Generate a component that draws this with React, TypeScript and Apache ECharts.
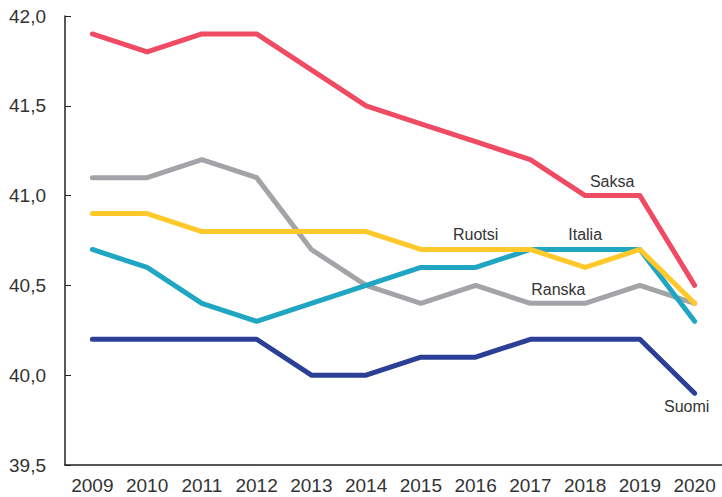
import React, { useEffect, useRef } from "react";
import * as echarts from "echarts";

const years = ["2009", "2010", "2011", "2012", "2013", "2014", "2015", "2016", "2017", "2018", "2019", "2020"];
const saksa = [41.9, 41.8, 41.9, 41.9, 41.7, 41.5, 41.4, 41.3, 41.2, 41.0, 41.0, 40.5];
const ranska = [41.1, 41.1, 41.2, 41.1, 40.7, 40.5, 40.4, 40.5, 40.4, 40.4, 40.5, 40.4];
const ruotsi = [40.9, 40.9, 40.8, 40.8, 40.8, 40.8, 40.7, 40.7, 40.7, 40.6, 40.7, 40.4];
const italia = [40.7, 40.6, 40.4, 40.3, 40.4, 40.5, 40.6, 40.6, 40.7, 40.7, 40.7, 40.3];
const suomi = [40.2, 40.2, 40.2, 40.2, 40.0, 40.0, 40.1, 40.1, 40.2, 40.2, 40.2, 39.9];

const FONT = "Liberation Sans";

function lineSeries(name: string, data: number[], color: string, labelYear: string, labelVal: number, offset: [number, number]) {
  return {
    name,
    type: "line",
    data,
    symbol: "none",
    lineStyle: { color, width: 5, cap: "round", join: "round" },
    itemStyle: { color },
    markPoint: {
      symbol: "rect",
      symbolSize: 1,
      itemStyle: { color: "rgba(0,0,0,0)" },
      label: {
        show: true,
        position: "inside",
        offset,
        formatter: name,
        color: "#333",
        fontSize: 16,
        fontFamily: FONT,
      },
      data: [{ coord: [labelYear, labelVal] }],
    },
  };
}

export default function App() {
  const ref = useRef<HTMLDivElement>(null);
  useEffect(() => {
    document.body.style.margin = "0";
    const chart = echarts.init(ref.current!, null, { renderer: "svg" });
    chart.setOption({
      animation: false,
      grid: { left: 65, right: -2, top: 16, bottom: 32, containLabel: false },
      xAxis: {
        type: "category",
        data: years,
        boundaryGap: true,
        axisLine: { lineStyle: { color: "#222", width: 1.5 } },
        axisTick: { inside: true, length: 5, lineStyle: { color: "#222" } },
        axisLabel: { color: "#333", fontSize: 19, fontFamily: FONT, margin: 11, interval: 0, hideOverlap: false },
      },
      yAxis: {
        type: "value",
        min: 39.5,
        max: 42.0,
        interval: 0.5,
        splitLine: { show: false },
        axisLine: { show: true, lineStyle: { color: "#222", width: 1.5 } },
        axisTick: { show: true, inside: true, length: 6, lineStyle: { color: "#222" } },
        axisLabel: {
          color: "#333",
          fontSize: 19,
          fontFamily: FONT,
          margin: 19,
          formatter: (v: number) => v.toFixed(1).replace(".", ","),
        },
      },
      series: [
        lineSeries("Ranska", ranska, "#A2A4A7", "2017", 40.4, [28, -14]),
        lineSeries("Suomi", suomi, "#2A3F95", "2020", 39.9, [-8, 13]),
        lineSeries("Italia", italia, "#20A6C2", "2018", 40.7, [0, -15]),
        lineSeries("Ruotsi", ruotsi, "#FFC92B", "2016", 40.7, [0, -15]),
        lineSeries("Saksa", saksa, "#EF4B63", "2018", 41.0, [27, -14]),
      ],
    });
    return () => chart.dispose();
  }, []);
  return <div ref={ref} style={{ width: 722, height: 497 }} />;
}
